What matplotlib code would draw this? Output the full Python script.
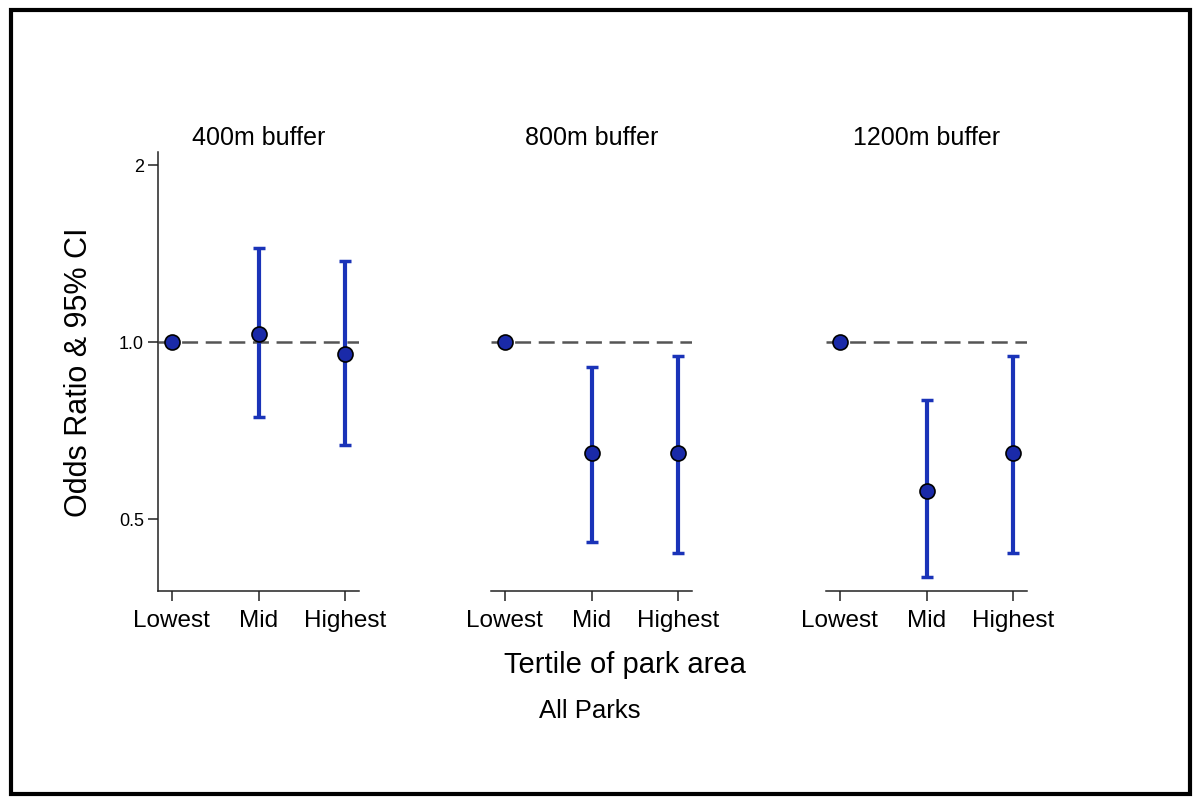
import matplotlib
matplotlib.use("Agg")
import matplotlib.pyplot as plt
from matplotlib.patches import Rectangle
import numpy as np

plt.rcParams['font.family'] = ['Liberation Sans', 'DejaVu Sans']
plt.rcParams['lines.scale_dashes'] = False

# ---- data ----
categories = ["Lowest", "Mid", "Highest"]
panel_titles = ["400m buffer", "800m buffer", "1200m buffer"]
odds_ratio = [
    [1.0, 1.033, 0.954],
    [1.0, 0.647, 0.647],
    [1.0, 0.557, 0.647],
]
ci_lower = [
    [np.nan, 0.746, 0.667],
    [np.nan, 0.457, 0.438],
    [np.nan, 0.399, 0.438],
]
ci_upper = [
    [np.nan, 1.445, 1.374],
    [np.nan, 0.908, 0.947],
    [np.nan, 0.797, 0.947],
]
yticks = [0.5, 1.0, 2.0]
ytick_labels = ["0.5", "1.0", "2"]

W, H = 1200, 804
fig = plt.figure(figsize=(W / 100, H / 100), dpi=100)

# border
fig.patches.append(Rectangle((11 / W, 9 / H), (1190 - 11) / W, (793 - 9) / H,
                             transform=fig.transFigure, fill=False,
                             edgecolor='black', linewidth=3.0))

lefts = [158, 491, 826]
ax_w = 201
top_px, bot_px = 153, 592

line_col = '#1a33b8'
fill_col = '#1a2aa8'

for i, left in enumerate(lefts):
    ax = fig.add_axes([left / W, 1 - bot_px / H, ax_w / W, (bot_px - top_px) / H])
    ax.set_yscale('log')
    ax.set_ylim(0.377, 2.104)
    ax.set_xlim(-0.16, 2.16)
    x = np.arange(len(categories))
    ax.axhline(1.0, color='#555555', linewidth=1.8, dashes=(11.5, 5.5), zorder=1)
    y = np.array(odds_ratio[i])
    lo = np.array(ci_lower[i])
    hi = np.array(ci_upper[i])
    mask = ~np.isnan(lo)
    ax.errorbar(x[mask], y[mask], yerr=[y[mask] - lo[mask], hi[mask] - y[mask]],
                fmt='none', ecolor=line_col, elinewidth=3.0, capsize=4.5,
                capthick=2.5, zorder=2)
    ax.plot(x, y, 'o', markersize=10.8, markerfacecolor=fill_col,
            markeredgecolor='black', markeredgewidth=1.2, zorder=3, clip_on=False)
    ax.set_xticks(x)
    ax.set_xticklabels(categories, fontsize=17.5)
    ax.tick_params(axis='x', length=7, width=1.1, pad=6, color='#222222')
    for s in ['top', 'right']:
        ax.spines[s].set_visible(False)
    ax.spines['bottom'].set_linewidth(1.1)
    ax.spines['bottom'].set_color('#222222')
    ax.yaxis.set_minor_locator(matplotlib.ticker.NullLocator())
    if i == 0:
        ax.set_yticks(yticks)
        ax.set_yticklabels(ytick_labels, fontsize=13)
        ax.tick_params(axis='y', length=7, width=1.1, pad=3, color='#222222')
        ax.spines['left'].set_linewidth(1.1)
        ax.spines['left'].set_color('#222222')
        ax.set_ylabel("Odds Ratio & 95% CI", fontsize=22, labelpad=18)
    else:
        ax.spines['left'].set_visible(False)
        ax.set_yticks([])
    ax.set_title(panel_titles[i], fontsize=18, pad=6)
    ax.patch.set_visible(False)

fig.text(625 / W, 1 - 665 / H, "Tertile of park area", fontsize=21,
         ha='center', va='center')
fig.text(590 / W, 1 - 711 / H, "All Parks", fontsize=18.5,
         ha='center', va='center')

fig.savefig("out.png", dpi=100)
